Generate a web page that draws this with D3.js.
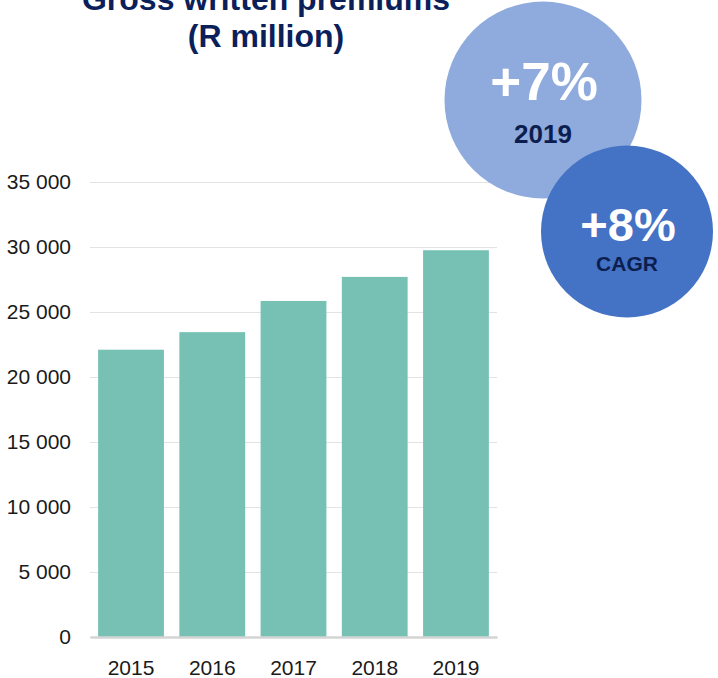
<!DOCTYPE html>
<html>
<head>
<meta charset="utf-8">
<script src="https://cdn.jsdelivr.net/npm/d3@7"></script>
<style>
  html, body { margin: 0; padding: 0; background: #fff; }
  svg { display: block; font-family: Arial, "Liberation Sans", sans-serif; }
</style>
</head>
<body>
<script>
const years = ["2015", "2016", "2017", "2018", "2019"];
const premiums = [22100, 23450, 25850, 27700, 29750];
const yTickValues = [0, 5000, 10000, 15000, 20000, 25000, 30000, 35000];
const yTickLabels = ["0", "5 000", "10 000", "15 000", "20 000", "25 000", "30 000", "35 000"];
const titleLines = ["Gross written premiums", "(R million)"];
const bubbles = [
  { big: "+7%", small: "2019" },
  { big: "+8%", small: "CAGR" }
];

const W = 718, H = 678;
const svg = d3.select("body").append("svg").attr("width", W).attr("height", H);

const x0 = 90, x1 = 497, yTop = 182, yBase = 637;
const x = d3.scaleBand().domain(years).range([x0, x1]).paddingInner(0.19).paddingOuter(0.1);
const y = d3.scaleLinear().domain([0, 35000]).range([yBase, yTop]);

// Gridlines
const yAxis = d3.axisLeft(y).tickValues(yTickValues)
  .tickSize(-(x1 - x0)).tickPadding(19)
  .tickFormat((d, i) => yTickLabels[i]);
const gy = svg.append("g").attr("transform", `translate(${x0},0)`).call(yAxis);
gy.select(".domain").remove();
gy.selectAll(".tick line").attr("stroke", "#e3e3e3").attr("stroke-width", 1);
gy.selectAll(".tick text").attr("font-size", 21).attr("fill", "#1a1a1a")
  .attr("font-family", "Arial, 'Liberation Sans', sans-serif").attr("dy", "0.3em");

// Bars
svg.append("g").selectAll("rect").data(premiums).join("rect")
  .attr("x", (d, i) => x(years[i]))
  .attr("width", x.bandwidth())
  .attr("y", d => y(d))
  .attr("height", d => yBase - y(d))
  .attr("fill", "#76C1B4");

// Baseline + x axis
const xAxis = d3.axisBottom(x).tickSize(0).tickPadding(23);
const gx = svg.append("g").attr("transform", `translate(0,${yBase})`).call(xAxis);
gx.select(".domain").attr("stroke", "#d4d4d4").attr("stroke-width", 2.5);
gx.selectAll(".tick text").attr("font-size", 21).attr("fill", "#1a1a1a")
  .attr("font-family", "Arial, 'Liberation Sans', sans-serif");

// Title
svg.append("g").selectAll("text").data(titleLines).join("text")
  .attr("x", 266).attr("y", (d, i) => 10 + i * 37)
  .attr("text-anchor", "middle")
  .attr("font-size", 32).attr("font-weight", "bold").attr("fill", "#0B1F5B")
  .text(d => d);

// Bubbles
const bubbleGeo = [
  { cx: 543, cy: 100, r: 98.5, fill: "#8FAADC", bigSize: 53, smallSize: 26, bigY: 100, smallY: 143 },
  { cx: 627, cy: 231.5, r: 86, fill: "#4472C4", bigSize: 47, smallSize: 21, bigY: 241, smallY: 271 }
];
bubbles.forEach((b, i) => {
  const g = bubbleGeo[i];
  svg.append("circle").attr("cx", g.cx).attr("cy", g.cy).attr("r", g.r).attr("fill", g.fill);
  svg.append("text").attr("x", g.cx + 1).attr("y", g.bigY).attr("text-anchor", "middle")
    .attr("font-size", g.bigSize).attr("font-weight", "bold").attr("fill", "#ffffff").text(b.big);
  svg.append("text").attr("x", g.cx).attr("y", g.smallY).attr("text-anchor", "middle")
    .attr("font-size", g.smallSize).attr("font-weight", "bold").attr("fill", "#0C1E4F").text(b.small);
});
</script>
</body>
</html>
